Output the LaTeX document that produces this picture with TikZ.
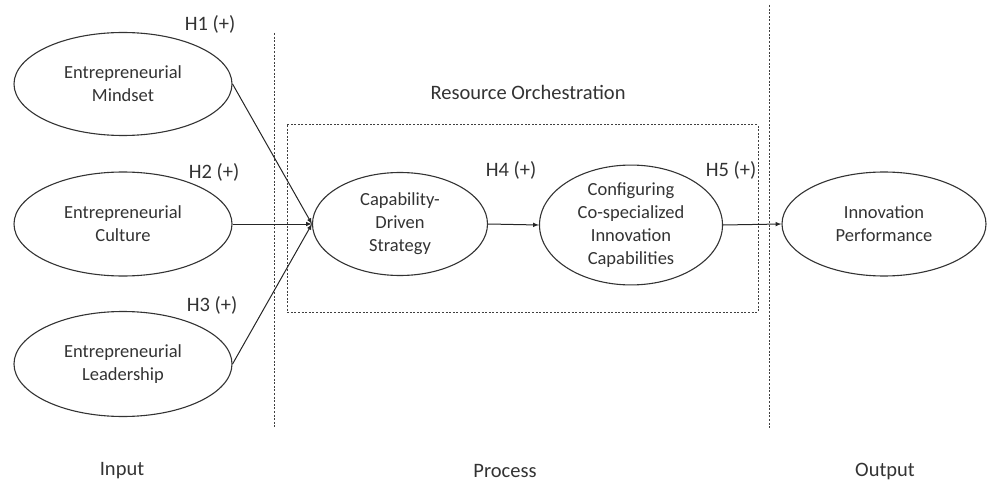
\documentclass[tikz,border=0pt]{standalone}
\usepackage{fontspec}
\setmainfont{Carlito}
\usetikzlibrary{shapes,arrows,positioning}

\begin{document}
\begin{tikzpicture}[x=1pt, y=-1pt, >=latex,
    construct/.style={ellipse, draw=black!80, line width=1.1pt, inner sep=0pt, align=center,
        text=black!80, font=\fontsize{18.5}{23}\selectfont},
    hyp/.style={text=black!80, font=\fontsize{20.5}{24}\selectfont},
    link/.style={->, draw=black!85, line width=1pt},
    border/.style={draw=black!75, line width=1pt, dash pattern=on 2pt off 1.6pt}]
\useasboundingbox (0,0) rectangle (987,481);

% inputs
\node[construct, minimum width=218pt, minimum height=103pt] (mindset) at (123,84) {Entrepreneurial\\ Mindset};
\node[construct, minimum width=218pt, minimum height=104pt] (culture) at (123,224) {Entrepreneurial\\ Culture};
\node[construct, minimum width=218pt, minimum height=105pt] (leadership) at (123,364) {Entrepreneurial\\ Leadership};

% process
\node[construct, minimum width=175pt, minimum height=103pt] (strategy) at (400,224) {Capability-\\ Driven\\ Strategy};
\node[construct, minimum width=183pt, minimum height=105pt] (config) at (631,225) {Configuring\\ Co-specialized\\ Innovation\\ Capabilities};

% output
\node[construct, minimum width=204pt, minimum height=104pt] (perf) at (884,224) {Innovation\\ Performance};

% frames
\draw[border] (274,33) -- (274,428);
\draw[border] (769,5) -- (769,428);
\draw[border] (287,125) rectangle (758,312);

\draw[link] (mindset.east) -- (strategy.west);
\draw[link] (culture.east) -- (strategy.west);
\draw[link] (leadership.east) -- (strategy.west);
\draw[link] (strategy.east) -- (config.west);
\draw[link] (config.east) -- (perf.west);

% labels
\node[hyp] (h1) at (210,24) {H1 (+)};
\node[hyp] (h2) at (214,172) {H2 (+)};
\node[hyp] (h3) at (212,305) {H3 (+)};
\node[hyp] (h4) at (511,170) {H4 (+)};
\node[hyp] (h5) at (731,170) {H5 (+)};
\node[hyp] (ro) at (528,92) {Resource Orchestration};
\node[hyp] (input) at (122,471) {Input};
\node[hyp] (process) at (505,471) {Process};
\node[hyp] (output) at (885,471) {Output};
\end{tikzpicture}
\end{document}
